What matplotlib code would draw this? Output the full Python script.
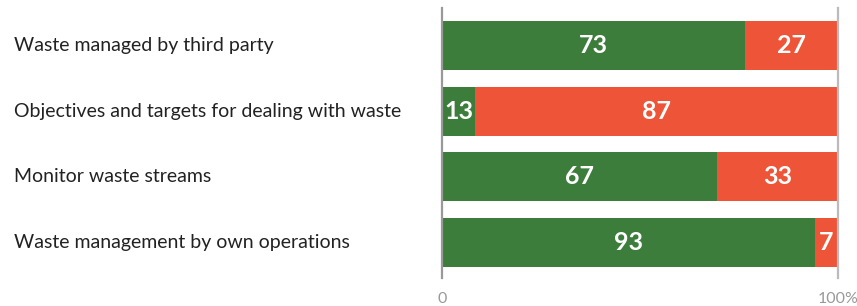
import matplotlib
matplotlib.use("Agg")
import matplotlib.pyplot as plt
from matplotlib import transforms

plt.rcParams['font.family'] = ['Lato', 'DejaVu Sans']

categories = ["Waste managed by third party",
              "Objectives and targets for dealing with waste",
              "Monitor waste streams",
              "Waste management by own operations"]
# printed labels
yes_labels = [73, 13, 67, 93]
no_labels = [27, 87, 33, 7]
# bar lengths as drawn in the picture (share of the 0-100% axis)
yes_bars = [76.5, 8.4, 69.4, 94.2]
no_bars = [23.5, 91.6, 30.6, 5.8]

green = "#3c7d3c"
red = "#ee5538"

fig = plt.figure(figsize=(8.57, 3.06), dpi=100)
W, H = 857, 306
ax = fig.add_axes([442 / W, (H - 278) / H, (838 - 442) / W, 270 / H])

ys = list(range(len(categories)))
ax.barh(ys, yes_bars, height=0.75, color=green)
ax.barh(ys, no_bars, left=yes_bars, height=0.75, color=red)

for y, a, b, la, lb in zip(ys, yes_bars, no_bars, yes_labels, no_labels):
    ax.text(a / 2, y, str(la), ha='center', va='center', color='white',
            fontsize=18, fontweight='bold')
    ax.text(a + b / 2, y, str(lb), ha='center', va='center', color='white',
            fontsize=18, fontweight='bold')

trans = transforms.blended_transform_factory(fig.transFigure, ax.transData)
for y, c in zip(ys, categories):
    ax.text(14 / W, y, c, ha='left', va='center', fontsize=14,
            color='#222222', transform=trans)

ax.set_xlim(0, 100)
ax.set_ylim(3.55, -0.58)
ax.set_yticks([])
ax.set_xticks([0, 100])
ax.set_xticklabels(["0", "100%"])
ax.tick_params(axis='x', length=0, pad=10, labelsize=11.5, labelcolor='#999999')
for s in ['top', 'bottom']:
    ax.spines[s].set_visible(False)
ax.spines['left'].set_color('#999999')
ax.spines['right'].set_color('#bbbbbb')
for s in ['left', 'right']:
    ax.spines[s].set_linewidth(1.6)

fig.savefig("out.png", dpi=100)
